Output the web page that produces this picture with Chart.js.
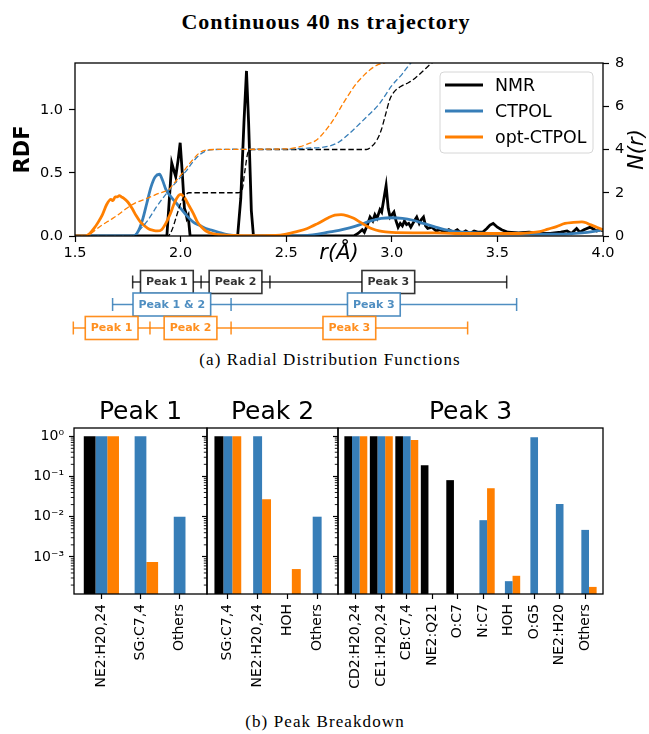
<!DOCTYPE html>
<html><head><meta charset="utf-8">
<script src="https://cdn.jsdelivr.net/npm/chart.js@4.4.0/dist/chart.umd.min.js"></script>
<style>
html,body{margin:0;padding:0;background:#fff;}
#wrap{position:relative;width:649px;height:734px;overflow:hidden;background:#fff;}
canvas{position:absolute;}
.cap{position:absolute;font-family:'Liberation Serif',serif;color:#000;white-space:nowrap;transform:translate(-50%,-50%);}
</style></head><body>
<div id="wrap">
<div class="cap" style="left:326px;top:22px;font-weight:bold;font-size:22px;letter-spacing:1px;">Continuous 40 ns trajectory</div>
<canvas id="rdf" width="649" height="345" style="left:0;top:0"></canvas>
<div class="cap" style="left:330px;top:360px;font-size:17px;letter-spacing:1.1px;">(a) Radial Distribution Functions</div>
<canvas id="p1" width="215" height="320" style="left:0;top:380px"></canvas>
<canvas id="p2" width="147" height="320" style="left:199px;top:380px"></canvas>
<canvas id="p3" width="281" height="320" style="left:330px;top:380px"></canvas>
<div class="cap" style="left:325px;top:722px;font-size:17px;letter-spacing:1.1px;">(b) Peak Breakdown</div>
</div>
<script>
// ---------- RDF data: [r (Å), g(r)] ----------
const nmrRdf = [[1.50,0],[1.935,0],[1.945,0.25],[1.958,0.58],[1.968,0.52],[1.977,0.47],[1.988,0.60],[1.998,0.74],[2.008,0.50],[2.018,0.22],[2.024,0.19],[2.030,0.14],[2.036,0.16],[2.045,0],[2.27,0],[2.285,0.30],[2.300,0.90],[2.312,1.31],[2.322,0.90],[2.335,0.20],[2.345,0],[2.82,0],[2.84,0.02],[2.86,0.05],[2.87,0.03],[2.885,0.09],[2.897,0.15],[2.91,0.12],[2.92,0.17],[2.93,0.14],[2.944,0.21],[2.952,0.19],[2.962,0.29],[2.973,0.40],[2.983,0.22],[2.992,0.15],[3.001,0.17],[3.010,0.19],[3.020,0.12],[3.030,0.07],[3.040,0.10],[3.050,0.08],[3.060,0.12],[3.070,0.09],[3.080,0.10],[3.090,0.07],[3.100,0.10],[3.110,0.13],[3.118,0.15],[3.130,0.10],[3.140,0.13],[3.150,0.15],[3.160,0.08],[3.170,0.06],[3.190,0.07],[3.210,0.04],[3.230,0.05],[3.250,0.03],[3.270,0.05],[3.290,0.03],[3.310,0.05],[3.330,0.02],[3.350,0.04],[3.370,0.02],[3.390,0.04],[3.410,0.03],[3.430,0.03],[3.450,0.06],[3.465,0.087],[3.480,0.10],[3.500,0.07],[3.520,0.05],[3.550,0.03],[3.600,0.025],[3.650,0.03],[3.700,0.02],[3.750,0.02],[3.800,0.03],[3.830,0.04],[3.850,0.02],[3.875,0.06],[3.890,0.03],[3.910,0.05],[3.940,0.07],[3.970,0.04],[3.990,0.05],[4.000,0.04]];
const ctRdf = [[1.50,0],[1.78,0],[1.80,0.04],[1.82,0.13],[1.84,0.26],[1.86,0.39],[1.88,0.47],[1.90,0.49],[1.915,0.44],[1.93,0.37],[1.95,0.32],[1.97,0.28],[2.00,0.22],[2.03,0.16],[2.06,0.11],[2.09,0.085],[2.12,0.06],[2.15,0.045],[2.18,0.03],[2.21,0.015],[2.25,0.005],[2.30,0],[2.55,0],[2.60,0.005],[2.65,0.015],[2.70,0.03],[2.75,0.045],[2.80,0.065],[2.85,0.09],[2.90,0.12],[2.95,0.14],[3.00,0.145],[3.05,0.14],[3.10,0.125],[3.15,0.10],[3.20,0.075],[3.25,0.05],[3.30,0.035],[3.40,0.025],[3.50,0.02],[3.60,0.02],[3.70,0.015],[3.80,0.015],[3.90,0.025],[3.95,0.035],[4.00,0.05]];
const optRdf = [[1.50,0],[1.55,0],[1.57,0.02],[1.59,0.06],[1.61,0.11],[1.63,0.17],[1.65,0.25],[1.67,0.29],[1.68,0.28],[1.69,0.31],[1.70,0.31],[1.71,0.32],[1.72,0.31],[1.73,0.30],[1.75,0.27],[1.77,0.22],[1.79,0.16],[1.81,0.11],[1.83,0.08],[1.85,0.055],[1.87,0.045],[1.89,0.04],[1.91,0.05],[1.93,0.10],[1.95,0.17],[1.97,0.26],[1.99,0.32],[2.00,0.33],[2.02,0.30],[2.04,0.24],[2.06,0.18],[2.08,0.11],[2.10,0.07],[2.12,0.04],[2.15,0.02],[2.20,0.008],[2.30,0.003],[2.45,0.005],[2.50,0.015],[2.55,0.035],[2.60,0.06],[2.65,0.10],[2.70,0.145],[2.73,0.165],[2.76,0.17],[2.79,0.16],[2.82,0.14],[2.85,0.11],[2.88,0.08],[2.91,0.055],[2.94,0.04],[2.97,0.032],[3.00,0.028],[3.10,0.025],[3.20,0.025],[3.30,0.02],[3.40,0.02],[3.50,0.02],[3.60,0.02],[3.65,0.025],[3.70,0.035],[3.74,0.055],[3.78,0.075],[3.82,0.10],[3.86,0.108],[3.90,0.112],[3.92,0.105],[3.94,0.09],[3.97,0.07],[4.00,0.05]];
// ---------- coordination numbers N(r): [r (Å), N] ----------
const nmrN = [[1.50,0],[1.94,0],[1.96,0.3],[1.98,0.9],[2.00,1.5],[2.02,1.85],[2.04,2.0],[2.27,2.0],[2.29,2.1],[2.305,3.05],[2.32,3.9],[2.34,4.0],[2.88,4.0],[2.90,4.1],[2.93,4.45],[2.95,4.9],[2.97,5.6],[2.99,6.3],[3.01,6.65],[3.04,6.9],[3.08,7.1],[3.11,7.3],[3.15,7.65],[3.19,8.0],[3.25,8.3]];
const ctN = [[1.50,0],[1.77,0],[1.79,0.12],[1.81,0.32],[1.84,0.66],[1.887,1.36],[1.934,1.98],[1.98,2.5],[2.03,3.05],[2.06,3.45],[2.09,3.75],[2.12,3.93],[2.16,4.0],[2.50,4.02],[2.60,4.06],[2.70,4.15],[2.75,4.35],[2.80,4.75],[2.88,5.5],[2.94,6.1],[3.00,6.95],[3.05,7.5],[3.09,8.0],[3.14,8.4]];
const optN = [[1.50,0],[1.55,0],[1.57,0.08],[1.59,0.22],[1.62,0.45],[1.666,0.74],[1.70,0.95],[1.745,1.28],[1.78,1.5],[1.823,1.67],[1.86,1.82],[1.90,1.98],[1.93,2.08],[1.95,2.2],[1.97,2.45],[2.00,2.8],[2.03,3.2],[2.06,3.55],[2.09,3.85],[2.12,3.97],[2.16,4.0],[2.50,4.03],[2.565,4.13],[2.60,4.25],[2.644,4.44],[2.68,4.8],[2.723,5.37],[2.77,6.14],[2.80,6.6],[2.834,7.07],[2.87,7.45],[2.897,7.69],[2.93,7.9],[2.968,8.02],[3.0,8.2]];
const rTicks = [1.5,2.0,2.5,3.0,3.5,4.0];
const gTicks = [0,0.5,1.0];
const nTicks = [0,2,4,6,8];
const seriesNames = ['NMR','CTPOL','opt-CTPOL'];
// ---------- peak ranges (Å) ----------
const nmrBounds = [1.773,2.097,2.423,3.544];
const nmrPeakNames = ['Peak 1','Peak 2','Peak 3'];
const ctBounds = [1.678,2.239,3.591];
const ctPeakNames = ['Peak 1 & 2','Peak 3'];
const optBounds = [1.492,1.855,2.239,3.359];
const optPeakNames = ['Peak 1','Peak 2','Peak 3'];
// ---------- peak breakdown (fractions) ----------
const peak1Cats = ['NE2:H20,24','SG:C7,4','Others'];
const peak1Nmr = [1.0,null,null];
const peak1Ct  = [1.0,1.0,0.01];
const peak1Opt = [1.0,7.5e-4,null];
const peak2Cats = ['SG:C7,4','NE2:H20,24','HOH','Others'];
const peak2Nmr = [1.0,null,null,null];
const peak2Ct  = [1.0,1.0,null,0.01];
const peak2Opt = [1.0,0.027,5.0e-4,null];
const peak3Cats = ['CD2:H20,24','CE1:H20,24','CB:C7,4','NE2:Q21','O:C7','N:C7','HOH','O:G5','NE2:H20','Others'];
const peak3Nmr = [1.0,1.0,1.0,0.19,0.081,null,null,null,null,null];
const peak3Ct  = [1.0,1.0,1.0,null,null,0.0082,2.5e-4,0.94,0.0206,0.0047];
const peak3Opt = [1.0,1.0,0.80,null,null,0.051,3.4e-4,null,null,1.8e-4];
const logTickExps = [-4,-3,-2,-1,0];
const yLogMin = 1.2e-4, yLogMax = 1.6;

// ---------- styling ----------
const BLACK = '#000000', BLUE = '#377eb8', ORANGE = '#ff7f00';
const seriesColors = [BLACK, BLUE, ORANGE];
Chart.defaults.font.family = '"DejaVu Sans", sans-serif';
Chart.defaults.color = '#000';

const toPts = arr => arr.map(p => ({x: p[0], y: p[1]}));
const solid = (arr, color, smooth) => ({data: toPts(arr), borderColor: color, borderWidth: 2.8, pointRadius: 0, yAxisID: 'y', tension: 0, cubicInterpolationMode: smooth ? 'monotone' : 'default', fill: false});
const dashed = (arr, color) => ({data: toPts(arr), borderColor: color, borderWidth: 1.3, borderDash: [5.5, 2.7], pointRadius: 0, yAxisID: 'y2', cubicInterpolationMode: 'monotone', fill: false});

const rdfDecor = {
  id: 'rdfDecor',
  afterDraw(chart) {
    const {ctx, chartArea: a, scales} = chart;
    const xs = scales.x;
    ctx.save();
    ctx.strokeStyle = '#000'; ctx.lineWidth = 1.3;
    ctx.strokeRect(a.left, a.top, a.right - a.left, a.bottom - a.top);
    ctx.fillStyle = '#000'; ctx.textAlign = 'center'; ctx.textBaseline = 'middle';
    ctx.font = 'italic 21px "DejaVu Sans"';
    ctx.fillText('r(Å)', (a.left + a.right) / 2, a.bottom + 18);
    ctx.save(); ctx.translate(a.right + 35, (a.top + a.bottom) / 2); ctx.rotate(-Math.PI / 2); ctx.fillText('N(r)', 0, 0); ctx.restore();
    ctx.font = 'bold 21px "DejaVu Sans"';
    ctx.save(); ctx.translate(a.left - 51, (a.top + a.bottom) / 2); ctx.rotate(-Math.PI / 2); ctx.fillText('RDF', 0, 0); ctx.restore();
    // legend
    const bw = 153, bh = 81, bx = a.right - 10 - bw, by = a.top + 9;
    ctx.beginPath();
    if (ctx.roundRect) ctx.roundRect(bx, by, bw, bh, 4); else ctx.rect(bx, by, bw, bh);
    ctx.fillStyle = 'rgba(255,255,255,0.85)'; ctx.fill();
    ctx.strokeStyle = '#d6d6d6'; ctx.lineWidth = 1; ctx.stroke();
    ctx.font = '17.4px "DejaVu Sans"'; ctx.textAlign = 'left';
    seriesNames.forEach((name, i) => {
      const yy = by + 13 + i * 26;
      ctx.strokeStyle = seriesColors[i]; ctx.lineWidth = 2.8;
      ctx.beginPath(); ctx.moveTo(bx + 5, yy); ctx.lineTo(bx + 43, yy); ctx.stroke();
      ctx.fillStyle = '#000'; ctx.fillText(name, bx + 55, yy + 1);
    });
    // peak range bars
    const rows = [
      {b: nmrBounds, n: nmrPeakNames, c: 'rgba(0,0,0,0.8)', dy: 46},
      {b: ctBounds, n: ctPeakNames, c: 'rgba(55,126,184,0.88)', dy: 68.5},
      {b: optBounds, n: optPeakNames, c: 'rgba(255,127,0,0.88)', dy: 92}
    ];
    ctx.font = 'bold 11px "DejaVu Sans"'; ctx.textAlign = 'center';
    rows.forEach(row => {
      const y = a.bottom + row.dy;
      const px = row.b.map(v => xs.getPixelForValue(v));
      ctx.strokeStyle = row.c; ctx.lineWidth = 1.5;
      ctx.beginPath(); ctx.moveTo(px[0], y); ctx.lineTo(px[px.length - 1], y); ctx.stroke();
      px.forEach(p => { ctx.beginPath(); ctx.moveTo(p, y - 6.5); ctx.lineTo(p, y + 6.5); ctx.stroke(); });
      row.n.forEach((label, i) => {
        const cx = (px[i] + px[i + 1]) / 2;
        const tw = ctx.measureText(label).width;
        const w = tw + 11, h = 23;
        ctx.fillStyle = '#fff'; ctx.fillRect(cx - w / 2, y - h / 2, w, h);
        ctx.lineWidth = 1.6; ctx.strokeStyle = row.c; ctx.strokeRect(cx - w / 2, y - h / 2, w, h);
        ctx.fillStyle = row.c; ctx.fillText(label, cx, y + 0.5);
      });
    });
    ctx.restore();
  }
};

new Chart(document.getElementById('rdf'), {
  type: 'line',
  data: {datasets: [
    dashed(optN, ORANGE), dashed(ctN, BLUE), dashed(nmrN, BLACK),
    solid(optRdf, ORANGE, true), solid(ctRdf, BLUE, true), solid(nmrRdf, BLACK, false)
  ]},
  options: {
    responsive: false, animation: false, events: [],
    layout: {padding: {top: 63, left: 0, right: 0, bottom: 0}},
    plugins: {legend: {display: false}, tooltip: {enabled: false}},
    scales: {
      x: {type: 'linear', min: 1.5, max: 4.0,
        afterBuildTicks: s => { s.ticks = rTicks.map(v => ({value: v})); },
        ticks: {callback: v => Number(v).toFixed(1), font: {size: 14.5}, color: '#000', padding: 3, maxRotation: 0, autoSkip: false},
        grid: {drawOnChartArea: false, tickLength: 6, color: '#000', tickWidth: 1.2}, border: {display: false},
        afterFit: s => { s.height = 109; }},
      y: {type: 'linear', position: 'left', min: 0, max: 1.373,
        afterBuildTicks: s => { s.ticks = gTicks.map(v => ({value: v})); },
        ticks: {callback: v => Number(v).toFixed(1), font: {size: 14.5}, color: '#000', padding: 6, autoSkip: false},
        grid: {drawOnChartArea: false, tickLength: 6, color: '#000', tickWidth: 1.2}, border: {display: false},
        afterFit: s => { s.width = 75; }},
      y2: {type: 'linear', position: 'right', min: 0, max: 8,
        afterBuildTicks: s => { s.ticks = nTicks.map(v => ({value: v})); },
        ticks: {callback: v => String(v), font: {size: 14.5}, color: '#000', padding: 6, autoSkip: false},
        grid: {drawOnChartArea: false, tickLength: 6, color: '#000', tickWidth: 1.2}, border: {display: false},
        afterFit: s => { s.width = 46; }}
    }
  },
  plugins: [rdfDecor]
});

// ---------- bar panels ----------
const SUP = {'-': '⁻', '0': '⁰', '1': '¹', '2': '²', '3': '³', '4': '⁴', '5': '⁵'};
const supStr = n => String(n).split('').map(c => SUP[c]).join('');
const logTicks = [];
logTickExps.forEach(e => {
  for (let m = 1; m <= 9; m++) {
    const v = m * Math.pow(10, e);
    if (v >= yLogMin && v <= yLogMax) logTicks.push({value: v, major: m === 1, label: m === 1 ? '10' + supStr(e) : ''});
  }
});

const panelDecor = {
  id: 'panelDecor',
  afterDraw(chart, args, opts) {
    const {ctx, chartArea: a, scales} = chart;
    ctx.save();
    ctx.strokeStyle = '#000'; ctx.lineWidth = 1.3;
    ctx.strokeRect(a.left, a.top, a.right - a.left, a.bottom - a.top);
    ctx.lineWidth = 0.9;
    scales.y.ticks.forEach(t => {
      if (t.major) return;
      const y = scales.y.getPixelForValue(t.value);
      if (y < a.top || y > a.bottom) return;
      ctx.beginPath(); ctx.moveTo(a.left - 3.2, y); ctx.lineTo(a.left, y); ctx.stroke();
    });
    ctx.fillStyle = '#000'; ctx.font = '25px "DejaVu Sans"'; ctx.textAlign = 'center'; ctx.textBaseline = 'alphabetic';
    ctx.fillText(opts.title, (a.left + a.right) / 2, a.top - 9);
    ctx.restore();
  }
};

function barPanel(id, cats, vN, vC, vO, title, showY, yWidth) {
  const pts = v => v.map((y, i) => ({x: i, y: y}));
  new Chart(document.getElementById(id), {
    type: 'bar',
    data: {datasets: [
      {data: pts(vN), backgroundColor: BLACK},
      {data: pts(vC), backgroundColor: BLUE},
      {data: pts(vO), backgroundColor: ORANGE}
    ]},
    options: {
      responsive: false, animation: false, events: [],
      categoryPercentage: 0.9, barPercentage: 1.0,
      layout: {padding: {top: 48, right: 8, left: 0, bottom: 0}},
      plugins: {legend: {display: false}, tooltip: {enabled: false}, panelDecor: {title: title}},
      scales: {
        x: {type: 'linear', min: -0.7, max: cats.length - 0.3, offset: false,
          afterBuildTicks: s => { s.ticks = cats.map((c, i) => ({value: i})); },
          ticks: {autoSkip: false, minRotation: 90, maxRotation: 90, callback: v => cats[v], font: {size: 14}, color: '#000', padding: 5},
          grid: {drawOnChartArea: false, offset: false, tickLength: 5, color: '#000', tickWidth: 1.2}, border: {display: false},
          afterFit: s => { s.height = 106; }},
        y: {type: 'logarithmic', min: yLogMin, max: yLogMax,
          afterBuildTicks: s => { s.ticks = logTicks.map(t => ({value: t.value, major: t.major, label: t.label})); },
          ticks: {display: showY, autoSkip: false, callback: (v, i) => logTicks[i] ? logTicks[i].label : '', font: {size: 14}, color: '#000', padding: 5},
          grid: {drawOnChartArea: false, tickLength: 5, tickWidth: 1.2, tickColor: c => (c.tick && c.tick.major) ? '#000' : 'rgba(0,0,0,0)'},
          border: {display: false},
          afterFit: s => { s.width = yWidth; }}
      }
    },
    plugins: [panelDecor]
  });
}
barPanel('p1', peak1Cats, peak1Nmr, peak1Ct, peak1Opt, 'Peak 1', true, 74);
barPanel('p2', peak2Cats, peak2Nmr, peak2Ct, peak2Opt, 'Peak 2', false, 8);
barPanel('p3', peak3Cats, peak3Nmr, peak3Ct, peak3Opt, 'Peak 3', false, 8);
</script>
</body></html>
